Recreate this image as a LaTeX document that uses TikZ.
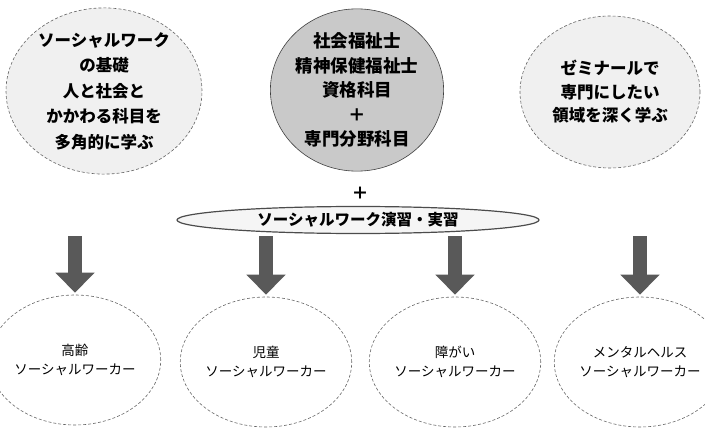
\documentclass[tikz,border=0pt]{standalone}
\usepackage{fontspec}
\setmainfont{Noto Sans CJK JP}
\usetikzlibrary{shapes.geometric,arrows.meta}

\begin{document}
\begin{tikzpicture}[x=1pt,y=-1pt,
        disc/.style={ellipse, draw=black!60, densely dashed, line width=0.6pt, inner sep=0pt, align=center},
        toptext/.style={font=\bfseries\fontsize{16.5}{25.5}\selectfont},
        lowtext/.style={font=\fontsize{13.5}{19}\selectfont},
        bigarrow/.style={draw=black!65, line width=14pt, shorten >=2pt, -{Triangle[width=38pt,length=20pt]}}
    ]
            \useasboundingbox (0,0) rectangle (705,428);

            % \draw[help lines] (0,0) grid[step=50] (705,428);
            \node[disc, fill=gray!12, minimum width=196, minimum height=158, toptext] (basic) at (104,91)
                {ソーシャルワーク\\の基礎\\人と社会と\\かかわる科目を\\多角的に学ぶ};
            \node[disc, solid, draw=black!75, fill=gray!42, minimum width=170, minimum height=160,
                font=\bfseries\fontsize{17.5}{24.5}\selectfont] (core) at (357,90)
                {社会福祉士\\精神保健福祉士\\資格科目\\＋\\専門分野科目};
            \node[disc, fill=gray!12, minimum width=180, minimum height=152, toptext,
                font=\bfseries\fontsize{16.5}{23.5}\selectfont] (semi) at (610,92)
                {ゼミナールで\\専門にしたい\\領域を深く学ぶ};

            \node[font=\bfseries\fontsize{17}{17}\selectfont] (plus) at (360,193) {＋};
            \node[ellipse, draw=black!70, line width=1.2pt, fill=gray!8, inner sep=0pt,
                minimum width=362, minimum height=27, font=\bfseries\fontsize{15.5}{15.5}\selectfont] (practice) at (358,220)
                {ソーシャルワーク演習・実習};

            % workers
            \node[disc, fill=white, minimum width=144, minimum height=130, lowtext] (low1) at (75,360)
                {高齢\\ソーシャルワーカー};
            \node[disc, fill=white, minimum width=144, minimum height=130, lowtext] (low2) at (266,362)
                {児童\\ソーシャルワーカー};
            \node[disc, fill=white, minimum width=144, minimum height=130, lowtext] (low3) at (455,362)
                {障がい\\ソーシャルワーカー};
            \node[disc, fill=white, minimum width=144, minimum height=130, lowtext] (low4) at (640,362)
                {メンタルヘルス\\ソーシャルワーカー};

            \coordinate (s1) at (75,236);
            \coordinate (s2) at (266,236);
            \coordinate (s3) at (455,236);
            \coordinate (s4) at (640,236);
            \draw[bigarrow] (s1) -- (low1);
            \draw[bigarrow] (s2) -- (low2);
            \draw[bigarrow] (s3) -- (low3);
            \draw[bigarrow] (s4) -- (low4);
\end{tikzpicture}
\end{document}
